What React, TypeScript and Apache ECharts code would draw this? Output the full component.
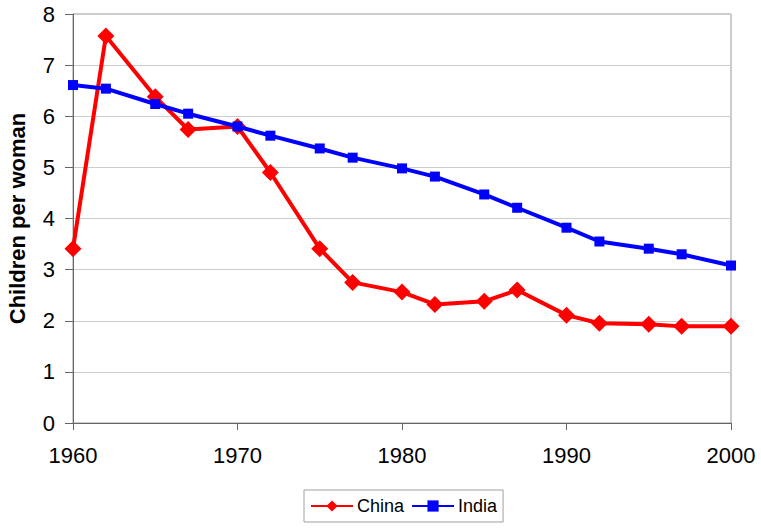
import React, { useEffect, useRef } from "react";
import * as echarts from "echarts";

const years = [1960, 1962, 1965, 1967, 1970, 1972, 1975, 1977, 1980, 1982, 1985, 1987, 1990, 1992, 1995, 1997, 2000];
const china = [3.41, 7.57, 6.38, 5.74, 5.8, 4.9, 3.41, 2.75, 2.56, 2.32, 2.38, 2.6, 2.11, 1.95, 1.93, 1.89, 1.89];
const india = [6.61, 6.54, 6.24, 6.05, 5.8, 5.62, 5.37, 5.19, 4.98, 4.82, 4.47, 4.21, 3.82, 3.55, 3.41, 3.3, 3.08];
const seriesNames = ["China", "India"];
const yAxisTitle = "Children per woman";

export default function App() {
  const ref = useRef<HTMLDivElement>(null);
  useEffect(() => {
    const chart = echarts.init(ref.current!, null, { renderer: "svg" });
    const font = "Liberation Sans, Arial, sans-serif";
    chart.setOption({
      animation: false,
      backgroundColor: "#ffffff",
      grid: {
        left: 73, right: 30, top: 14, bottom: 107,
        show: true, borderColor: "#999999", borderWidth: 1,
        outerBoundsMode: "none", containLabel: false,
      },
      legend: {
        bottom: 8,
        left: 304,
        data: seriesNames,
        borderColor: "#a0a0a0",
        borderWidth: 1,
        padding: [7, 6, 7, 6],
        itemWidth: 42,
        itemHeight: 14,
        itemGap: 7,
        textStyle: { fontFamily: font, fontSize: 18, color: "#000", padding: [0, 0, 0, -1] },
      },
      xAxis: {
        type: "value",
        min: 1960,
        max: 2000,
        interval: 10,
        axisLine: { show: true, lineStyle: { color: "#666", width: 1 } },
        axisTick: { show: true, length: 7, lineStyle: { color: "#666" } },
        splitLine: { show: false },
        axisLabel: { fontFamily: font, fontSize: 22, color: "#000", margin: 21, formatter: (v: number) => String(v) },
      },
      yAxis: {
        type: "value",
        min: 0,
        max: 8,
        interval: 1,
        name: yAxisTitle,
        nameLocation: "middle",
        nameGap: 45,
        nameMoveOverlap: false,
        nameTextStyle: { fontFamily: font, fontSize: 22, fontWeight: "bold", color: "#000" },
        axisLine: { show: true, lineStyle: { color: "#666", width: 1 } },
        axisTick: { show: true, length: 8, lineStyle: { color: "#666" } },
        splitLine: { show: true, lineStyle: { color: "#cccccc", width: 1 } },
        axisLabel: { fontFamily: font, fontSize: 22, color: "#000", margin: 18 },
      },
      series: [
        {
          name: seriesNames[0],
          type: "line",
          data: years.map((y, i) => [y, china[i]]),
          symbol: "diamond",
          symbolSize: 17,
          itemStyle: { color: "#ff0000" },
          lineStyle: { color: "#ff0000", width: 4 },
          z: 3,
        },
        {
          name: seriesNames[1],
          type: "line",
          data: years.map((y, i) => [y, india[i]]),
          symbol: "rect",
          symbolSize: 10,
          itemStyle: { color: "#0000ff" },
          lineStyle: { color: "#0000ff", width: 4 },
          z: 4,
        },
      ],
    });
    return () => chart.dispose();
  }, []);
  return <div ref={ref} style={{ width: 761, height: 530, position: "absolute", left: 0, top: 0 }} />;
}
